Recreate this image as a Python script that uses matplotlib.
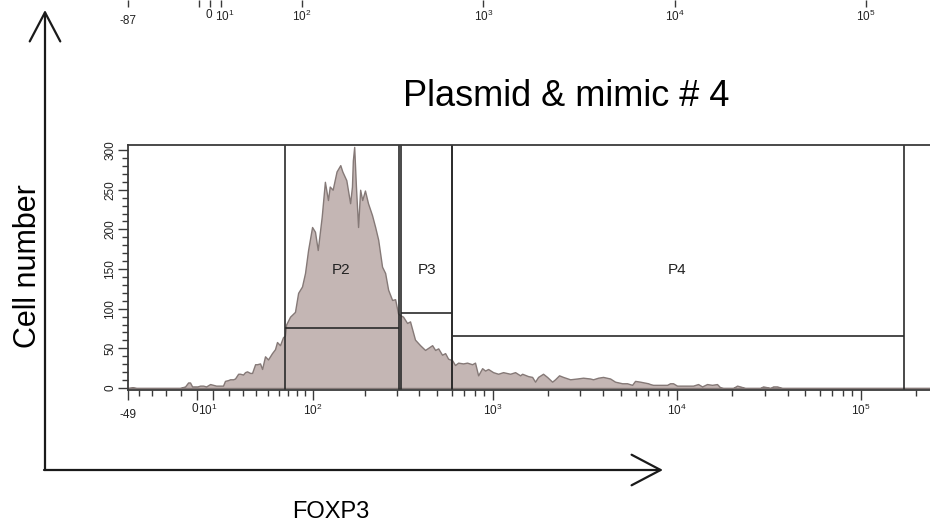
import matplotlib
matplotlib.use("Agg")
import matplotlib.pyplot as plt
from matplotlib.transforms import ScaledTranslation

plt.rcParams['font.family'] = ['Liberation Sans', 'DejaVu Sans']
plt.rcParams['mathtext.default'] = 'regular'

# histogram of FOXP3 intensity (x) vs cell count
foxp3 = [-49, -45, -42, -11, -7.7, -5.8, -4.6, -3.3, 0, 1.7, 3.6, 5.5, 8.0, 9.9, 11.8,
         14.4, 16.3, 17.6, 19.7, 21.0, 23.1, 24.4, 26.6, 28.0, 30.1, 31.6, 33.1, 35.4,
         36.9, 39.3, 40.9, 43.3, 45.0, 47.5, 50.1, 51.9, 53.7, 56.5, 58.4, 61.3, 64.3,
         66.3, 67.5, 71.8, 77.3, 81, 85.7, 89.5, 93.5, 98.9, 103, 107, 113, 118, 123,
         126, 131, 138, 145, 149, 157, 165, 169, 171, 174, 178, 183, 188, 193, 200, 208,
         219, 228, 237, 249, 259, 269, 283, 294, 305, 313, 325, 342, 355, 378, 403, 429,
         469, 487, 506, 531, 552, 573, 603, 625, 650, 691, 727, 774, 803, 835, 878, 911,
         946, 1007, 1072, 1141, 1246, 1326, 1412, 1448, 1561, 1641, 1702, 1768, 1881,
         1978, 2107, 2186, 2298, 2416, 2638, 2878, 3102, 3387, 3515, 3744, 3983, 4350,
         4628, 5053, 5377, 5726, 5942, 6328, 6994, 7171, 7441, 8125, 8866, 9203, 9552,
         10040, 11100, 12270, 13065, 13735, 14610, 15550, 16550, 17200, 17850, 20230,
         21270, 22090, 23500, 28370, 29440, 30950, 32240, 33370, 35070, 37330, 262144]
counts = [0, 1, 0, 0, 2, 7, 7, 2, 2, 3, 3, 2, 5, 4, 3,
          3, 3, 9, 10, 11, 11, 12, 18, 18, 17, 20, 21, 19,
          19, 30, 30, 31, 24, 40, 36, 40, 44, 49, 58, 54, 64,
          66, 80, 90, 96, 120, 128, 145, 174, 203, 197, 174, 216, 260, 237,
          254, 250, 273, 281, 273, 262, 233, 254, 287, 304, 254, 203, 250, 237, 249, 233,
          218, 203, 187, 153, 145, 124, 111, 112, 94, 92, 90, 82, 84, 61, 54, 48,
          54, 48, 50, 42, 44, 37, 35, 29, 32, 31, 32, 30, 32, 16, 25, 22,
          24, 20, 18, 20, 18, 20, 16, 18, 15, 14, 8, 14, 18,
          14, 8, 11, 16, 14, 11, 12, 13, 12, 11, 13, 14, 12,
          8, 6, 6, 4, 9, 8, 6, 5, 4, 4, 4, 6, 6,
          3, 3, 3, 5, 2, 5, 4, 5, 1, 0, 0,
          3, 2, 0, 0, 2, 1, 0, 2, 2, 0, 0]

# gates: name, left, right, level
gate_names = ['P2', 'P3', 'P4']
gate_left = [66, 317, 603]
gate_right = [309, 603, 171600]
gate_level = [76, 94, 66]
gate_label_x = [146, 440, 10000]
gate_label_y = 149


def nudge(label, dx, dy):
    # shift a tick label by a few points
    label.set_transform(label.get_transform()
                        + ScaledTranslation(dx / 72, dy / 72, fig.dpi_scale_trans))


fig = plt.figure(figsize=(9.3, 5.31), dpi=100)
ax = fig.add_axes([128 / 930, 141 / 531, 810 / 930, 245 / 531])
ax.set_xscale('asinh', linear_width=50)
ax.set_xlim(-49, 262144)
ax.set_ylim(-2.5, 306.4)

ax.fill_between(foxp3, 0, counts, facecolor='#c4b6b4', edgecolor='#857977', linewidth=1.0)

for name, x0, x1, lvl, lx in zip(gate_names, gate_left, gate_right, gate_level, gate_label_x):
    ax.axvline(x0, color='#2a2a2a', lw=1.2)
    ax.axvline(x1, color='#2a2a2a', lw=1.2)
    ax.hlines(lvl, x0, x1, color='#2a2a2a', lw=1.2)
    ax.text(lx, gate_label_y, name, ha='center', va='center', fontsize=11, color='#222222')

# axis styling
for side in ['left', 'top', 'bottom']:
    ax.spines[side].set_color('#3a3a3a')
    ax.spines[side].set_linewidth(1.3)
ax.spines['right'].set_visible(False)

xmaj = [-49, 0, 10, 100, 1000, 10000, 100000]
xlab = ['-49', '0', '$10^{1}$', '$10^{2}$', '$10^{3}$', '$10^{4}$', '$10^{5}$']
xmin = [-40, -30, -20, -10, 20, 30, 40, 50, 60, 70, 80, 90,
        200, 300, 400, 500, 600, 700, 800, 900,
        2000, 3000, 4000, 5000, 6000, 7000, 8000, 9000,
        20000, 30000, 40000, 50000, 60000, 70000, 80000, 90000, 200000]
ax.set_xticks(xmaj, labels=xlab)
ax.set_xticks(xmin, minor=True)
ax.set_xticklabels([], minor=True)
ax.set_yticks(range(0, 301, 50))
ax.set_yticks(range(0, 301, 10), minor=True)
ax.tick_params(axis='both', which='major', length=7.5, width=1, color='#3a3a3a',
               labelsize=8.5, labelcolor='#222222', pad=2)
ax.tick_params(axis='both', which='minor', length=4.5, width=1, color='#3a3a3a')
ax.tick_params(axis='y', labelrotation=90, pad=1)
for lab in ax.get_yticklabels():
    lab.set_va('center')
xl = ax.get_xticklabels()
nudge(xl[0], 0, -4)
xl[1].set_ha('right')
nudge(xl[1], 0.5, 0)
nudge(xl[2], -4, 0)

# bottom axis of the plot above, cropped at the top of the figure
axt = fig.add_axes([128 / 930, 1.0, 818 / 930, 0.0001])
axt.set_xscale('asinh', linear_width=75)
axt.set_xlim(-87, 262144)
for side in axt.spines:
    axt.spines[side].set_visible(False)
axt.patch.set_visible(False)
axt.set_yticks([])
axt.set_xticks([-87, -10, 0, 10, 100, 1000, 10000, 100000],
               labels=['-87', '', '0', '$10^{1}$', '$10^{2}$', '$10^{3}$', '$10^{4}$', '$10^{5}$'])
axt.set_xticks([], minor=True)
axt.tick_params(axis='x', length=5, width=1, color='#3a3a3a', labelsize=8.5,
                labelcolor='#222222', pad=1.5)
tl = axt.get_xticklabels()
nudge(tl[0], 0, -4)
tl[2].set_ha('right')
nudge(tl[2], 1.5, 0)
tl[3].set_ha('left')
nudge(tl[3], -4.5, 0)

# big axis arrows
arrow_kw = dict(arrowstyle='->,head_length=0.95,head_width=0.5', lw=1.6, color='#1a1a1a',
                mutation_scale=22, shrinkA=0, shrinkB=0)
fig.add_artist(matplotlib.patches.FancyArrowPatch((45, 61), (45, 521), transform=None, **arrow_kw))
fig.add_artist(matplotlib.patches.FancyArrowPatch((44, 61), (663, 61), transform=None, **arrow_kw))

fig.text(28 / 930, 265 / 531, 'Cell number', rotation=90, ha='center', va='center', fontsize=22)
fig.text(331 / 930, 19 / 531, 'FOXP3', ha='center', va='center', fontsize=17)
fig.text(566 / 930, 435 / 531, 'Plasmid & mimic # 4', ha='center', va='center', fontsize=26)

fig.savefig('out.png', dpi=100)
